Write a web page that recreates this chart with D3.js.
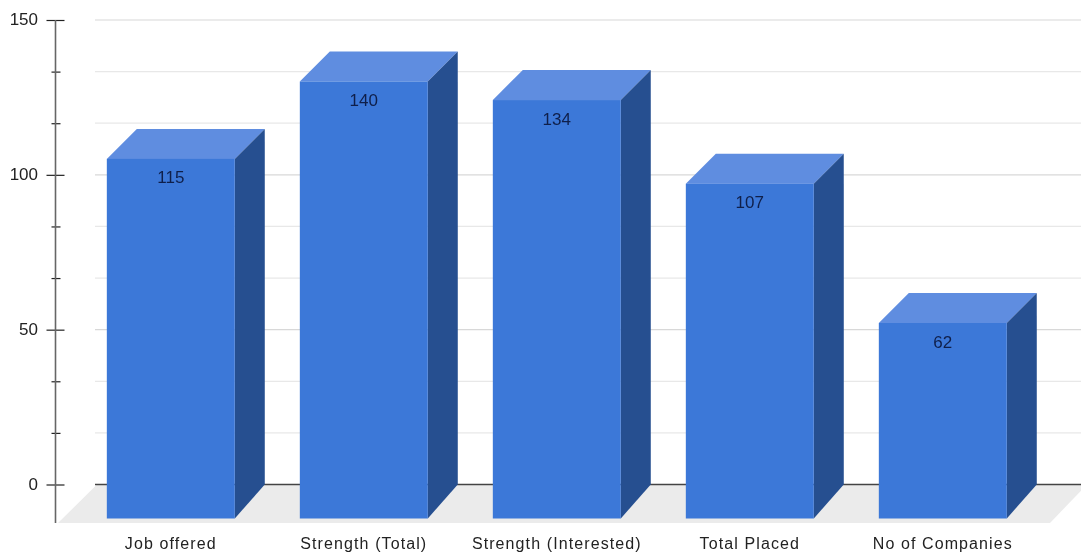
<!DOCTYPE html>
<html><head><meta charset="utf-8">
<script src="https://cdn.jsdelivr.net/npm/d3@7"></script>
<style>html,body{margin:0;padding:0;background:#fff}svg{display:block;filter:blur(0.35px)}
text{font-family:"Liberation Sans",Arial,sans-serif;fill:#222}</style>
</head><body><svg id="c" width="1081" height="555"></svg>
<script>
const categories = ["Job offered","Strength (Total)","Strength (Interested)","Total Placed","No of Companies"];
const values = [115,140,134,107,62];
const majorTicks = [0,50,100,150];
const minorTicks = [0,16.667,33.333,50,66.667,83.333,100,116.667,133.333,150];

const svg = d3.select("#c");
const W = 1081, H = 555;
const y = d3.scaleLinear().domain([0,150]).range([484.5,20]);
const x = d3.scaleBand().domain(categories).range([74.3,1039.3]).paddingInner(0.337).paddingOuter(0.1685);
const dx = 30, dyTop = 30, dyBase = 34;

// floor
svg.append("polygon").attr("fill","#ebebeb")
  .attr("points",[[58,523],[97,y(0)],[1087,y(0)],[1050,523]].join(" "));

// gridlines
svg.append("g").selectAll("line").data(minorTicks.slice(1)).join("line")
  .attr("x1",95).attr("x2",W)
  .attr("y1",d=>y(d)).attr("y2",d=>y(d))
  .attr("stroke",d=>majorTicks.includes(d)?"#d8d8d8":"#e8e8e8")
  .attr("stroke-width",1.2);
svg.append("line").attr("x1",95).attr("x2",W).attr("y1",y(0)).attr("y2",y(0))
  .attr("stroke","#444").attr("stroke-width",1.4);

// y axis
const ax = svg.append("g").attr("transform","translate(55.5,0)");
ax.call(d3.axisLeft(y).tickValues(minorTicks).tickSize(0).tickFormat(""));
ax.select(".domain").remove();
ax.append("line").attr("y1",20).attr("y2",523).attr("stroke","#666").attr("stroke-width",1.6);
ax.selectAll(".tick line").remove();
ax.selectAll(".tick").append("line")
  .attr("x1",d=>majorTicks.includes(d)?-9:-4).attr("x2",d=>majorTicks.includes(d)?9:5)
  .attr("stroke","#222").attr("stroke-width",1.2);
svg.append("g").selectAll("text").data(majorTicks).join("text")
  .attr("x",38).attr("y",d=>y(d)+5).attr("text-anchor","end")
  .attr("font-size",17).text(d=>d);

// bars
const bw = x.bandwidth();
const g = svg.append("g").selectAll("g").data(categories).join("g");
const val = (d,i)=>values[i];
g.append("polygon").attr("fill","#5f8de0")
  .attr("points",(d,i)=>{const l=x(d),t=y(values[i])+dyTop+0.5;
    return [[l,t],[l+dx,t-dyTop],[l+bw+dx,t-dyTop],[l+bw,t]].join(" ");});
g.append("polygon").attr("fill","#264f90")
  .attr("points",(d,i)=>{const r=x(d)+bw,t=y(values[i])+dyTop+0.5;
    return [[r,t],[r+dx,t-dyTop],[r+dx,y(0)],[r,y(0)+dyBase]].join(" ");});
g.append("rect").attr("fill","#3c78d8")
  .attr("x",d=>x(d)).attr("width",bw)
  .attr("y",(d,i)=>y(values[i])+dyTop+0.5)
  .attr("height",(d,i)=>y(0)+dyBase-y(values[i])-dyTop-0.5);
g.append("text").attr("text-anchor","middle").attr("font-size",17).style("fill","#0f1f4a")
  .attr("x",d=>x(d)+bw/2).attr("y",(d,i)=>y(values[i])+dyTop+25).text(val);
g.append("text").attr("text-anchor","middle").attr("font-size",16).style("letter-spacing","1.1px")
  .attr("x",d=>x(d)+bw/2).attr("y",549).text(d=>d);
</script></body></html>
